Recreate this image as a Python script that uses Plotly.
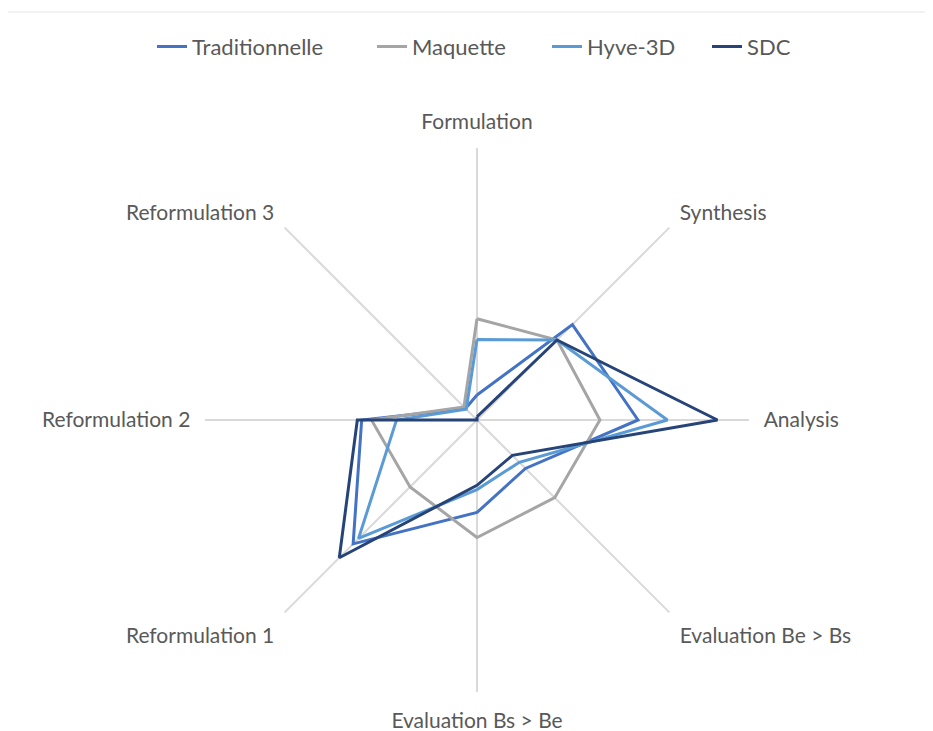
import plotly.graph_objects as go

# axes of the radar, clockwise from the top
categories = ["Formulation", "Synthesis", "Analysis", "Evaluation Be > Bs",
              "Evaluation Bs > Be", "Reformulation 1", "Reformulation 2", "Reformulation 3"]

traditionnelle = [2.3, 12.4, 14.8, 6.3, 8.5, 16.1, 10.6, 1.5]
maquette = [9.3, 10.4, 11.3, 10.1, 10.8, 8.7, 9.7, 1.7]
hyve_3d = [7.4, 10.4, 17.5, 5.5, 6.4, 15.4, 7.4, 1.4]
sdc = [0.3, 10.4, 22.1, 4.6, 6.0, 17.9, 11.0, 0.0]

# name, values, colour, width of the legend entry text slot
series = [
    ("Traditionnelle", traditionnelle, "#4472C4", 175),
    ("Maquette", maquette, "#A5A5A5", 130),
    ("Hyve-3D", hyve_3d, "#5B9BD5", 115),
    ("SDC", sdc, "#264478", 45),
]

fig = go.Figure()
for name, vals, color, lw in series:
    # close the polygon
    fig.add_trace(go.Scatterpolar(
        r=vals + vals[:1], theta=categories + categories[:1],
        mode="lines", name=name, legendwidth=lw,
        line=dict(color=color, width=3),
    ))

# page body has an 8px margin, so everything is nudged up/left by 8
fig.update_layout(
    width=933, height=731,
    paper_bgcolor="white", plot_bgcolor="white",
    margin=dict(l=92, r=87, t=140, b=47),
    font=dict(family="Lato, Open Sans, sans-serif", color="#595959", size=21),
    legend=dict(orientation="h", xref="container", yref="container",
                x=0.5, xanchor="center", y=0.947, yanchor="middle",
                font=dict(size=22, color="#595959")),
    polar=dict(
        bgcolor="white",
        radialaxis=dict(range=[0, 25], visible=False, showgrid=False),
        angularaxis=dict(direction="clockwise", rotation=90,
                         showline=False, ticks="outside", ticklen=10,
                         tickcolor="rgba(0,0,0,0)",
                         showgrid=True, gridcolor="#D9D9D9", gridwidth=1.5,
                         tickfont=dict(size=21, color="#595959")),
    ),
)

# faint frame line at the very top
fig.add_shape(type="line", xref="paper", yref="paper",
              x0=-0.13, x1=1.13, y0=1.25, y1=1.25,
              line=dict(color="#E6E6E6", width=1))

fig.write_html("out.html")
